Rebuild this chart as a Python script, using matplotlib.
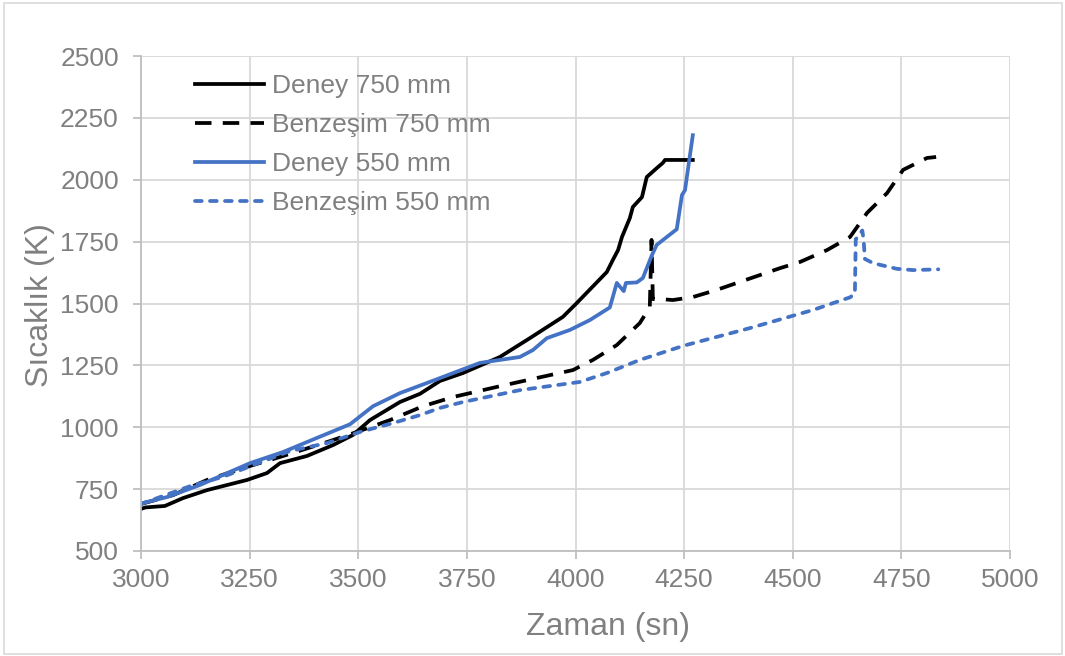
import matplotlib
matplotlib.use("Agg")
import matplotlib.pyplot as plt
from matplotlib.patches import Rectangle

# Deney / Benzeşim sıcaklık verileri (okunan değerler)
deney750_x = [3000, 3010, 3055, 3097, 3152, 3244, 3290, 3320, 3382, 3442, 3488, 3527, 3596, 3642,
              3688, 3741, 3826, 3895, 3971, 4003, 4072, 4086, 4098, 4107, 4125, 4132, 4153, 4164,
              4187, 4201, 4206, 4270]
deney750_y = [670, 676, 682, 714, 746, 787, 815, 855, 884, 928, 969, 1029, 1102, 1135,
              1187, 1219, 1284, 1360, 1446, 1502, 1627, 1676, 1716, 1769, 1845, 1890, 1930, 2011,
              2047, 2068, 2080, 2080]

benz750_x = [3000, 3074, 3152, 3244, 3320, 3428, 3497, 3573, 3649, 3718, 3819, 3911, 3994, 4040,
             4095, 4148, 4171, 4175, 4178, 4194, 4224, 4270, 4325, 4471, 4517, 4579, 4632, 4671,
             4717, 4754, 4809, 4830]
benz750_y = [690, 726, 787, 840, 880, 940, 981, 1029, 1085, 1122, 1163, 1199, 1231, 1272,
             1332, 1421, 1485, 1757, 1518, 1518, 1514, 1526, 1555, 1643, 1668, 1716, 1769, 1866,
             1946, 2040, 2088, 2092]

deney550_x = [3000, 3060, 3136, 3251, 3327, 3405, 3481, 3534, 3596, 3672, 3780, 3872, 3902, 3934,
              3987, 4033, 4079, 4095, 4111, 4116, 4141, 4155, 4176, 4187, 4233, 4245, 4252, 4270]
deney550_y = [692, 718, 767, 855, 900, 957, 1012, 1085, 1138, 1188, 1260, 1284, 1312, 1360,
              1393, 1433, 1484, 1583, 1550, 1583, 1585, 1603, 1696, 1737, 1800, 1938, 1958, 2180]

benz550_x = [3000, 3113, 3189, 3270, 3343, 3428, 3504, 3580, 3642, 3688, 3741, 3872, 4010, 4072,
             4148, 4250, 4400, 4547, 4632, 4643, 4645, 4652, 4660, 4663, 4666, 4685, 4740, 4777, 4835]
benz550_y = [690, 762, 800, 855, 904, 936, 981, 1017, 1049, 1078, 1102, 1150, 1183, 1219,
             1272, 1330, 1400, 1474, 1525, 1540, 1760, 1775, 1795, 1760, 1680, 1663, 1640, 1635, 1638]

labels = ["Deney 750 mm", "Benzeşim 750 mm", "Deney 550 mm", "Benzeşim 550 mm"]
xticks = [3000, 3250, 3500, 3750, 4000, 4250, 4500, 4750, 5000]
yticks = [500, 750, 1000, 1250, 1500, 1750, 2000, 2250, 2500]

plt.rcParams['font.family'] = ['Liberation Sans', 'DejaVu Sans']
gray = '#808080'
blue = '#4472C4'

fig = plt.figure(figsize=(10.65, 6.56), dpi=100)
ax = fig.add_axes([141/1065, 1-551/656, (1010-141)/1065, (551-56)/656])

lw = 2.7
ax.plot(deney750_x, deney750_y, color='black', lw=lw, label=labels[0])
ax.plot(benz750_x, benz750_y, color='black', lw=lw, dashes=(4.4, 3.0), label=labels[1])
ax.plot(deney550_x, deney550_y, color=blue, lw=lw, label=labels[2])
ax.plot(benz550_x, benz550_y, color=blue, lw=lw, dashes=(1.8, 2.2),
        dash_capstyle='round', label=labels[3])

ax.set_xlim(3000, 5000)
ax.set_ylim(500, 2500)
ax.set_xticks(xticks)
ax.set_yticks(yticks)
ax.grid(True, color='#d9d9d9', lw=1.3)
ax.set_axisbelow(True)
for s in ['top', 'right']:
    ax.spines[s].set_visible(False)
for s in ['left', 'bottom']:
    ax.spines[s].set_color('#bfbfbf')
    ax.spines[s].set_linewidth(1.3)
ax.tick_params(axis='both', colors='#bfbfbf', labelcolor=gray, labelsize=19,
               length=6, width=1.3)
ax.tick_params(axis='y', pad=10)
ax.tick_params(axis='x', pad=6)

fig.text(608/1065, 1-627/656, "Zaman (sn)", color=gray, fontsize=23,
         ha='center', va='center')
fig.text(40/1065, 1-305/656, "Sıcaklık (K)", color=gray, fontsize=23,
         ha='center', va='center', rotation=90)

ax.legend(loc='upper left', bbox_to_anchor=(195/1065, 1-74/656), bbox_transform=fig.transFigure,
          frameon=False, fontsize=19, labelcolor=gray, handlelength=2.6,
          handletextpad=0.3, labelspacing=0.57, borderpad=0, borderaxespad=0)

fig.patches.append(Rectangle((4/1065, 2/656), 1058/1065, 651/656, transform=fig.transFigure,
                             fill=False, edgecolor='#d9d9d9', lw=1.2))

fig.savefig("out.png", dpi=100)
